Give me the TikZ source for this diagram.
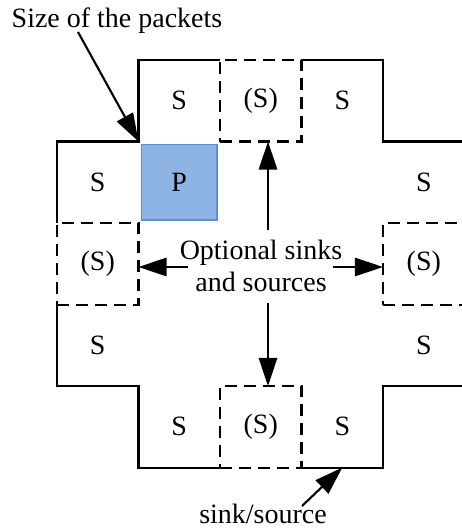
\documentclass[tikz,border=0pt]{standalone}
\usepackage{fontspec}
\setmainfont{Liberation Serif}
\usetikzlibrary{arrows.meta,positioning}

\definecolor{pfill}{HTML}{8DB4E2}
\definecolor{pline}{HTML}{5B8ED8}

\tikzset{
  cell/.style={minimum size=2.0375cm,inner sep=0pt,outer sep=0pt},
  optcell/.style={cell,draw,dash pattern=on 8.5pt off 5pt},
  packet/.style={minimum size=1.89cm,inner sep=0pt,draw=pline,fill=pfill,line width=1.2pt}
}

\begin{document}
\begin{tikzpicture}[x=0.025cm,y=-0.025cm,>={Triangle[length=20pt,width=13pt]},line width=1.5pt,node distance=2.0375cm,font=\fontsize{19.9}{22.8}\selectfont]
    \useasboundingbox (0,0) rectangle (461,532);

    % cells of the cross
    \node[cell] (t1) at (179.25,100.75) {S};
    \node[optcell] (t2) [right of=t1] {(S)};
    \node[cell] (t3) [right of=t2] {S};

    \node[packet] (p) [below of=t1] {P};
    \node[cell] (l1) [left of=p] {S};
    \node[optcell] (l2) [below of=l1] {(S)};
    \node[cell] (l3) [below of=l2] {S};

    \node[cell] (r1) [right of=p, xshift=4.075cm] {S};
    \node[optcell] (r2) [below of=r1] {(S)};
    \node[cell] (r3) [below of=r2] {S};

    \node[cell] (b1) [right of=l3, yshift=-2.0375cm] {S};
    \node[optcell] (b2) [right of=b1] {(S)};
    \node[cell] (b3) [right of=b2] {S};

    % outline
    \draw (t2.north west) -- (t1.north west) -- (t1.south west) -- (l1.north west) -- (l2.north west);
    \draw (l2.south west) -- (l3.south west) -- (b1.north west) -- (b1.south west) -- (b2.south west);
    \draw (b2.south east) -- (b3.south east) -- (b3.north east) -- (r3.south east);
    \draw (t2.north east) -- (t3.north east) -- (t3.south east) -- (r1.north east);

    % labels
    \node[anchor=base] (size) at (117,28) {Size of the packets};
    \node[align=center] (opt) at (261,266) {Optional sinks\\and sources};
    \node[anchor=base] (sink) at (263,523) {sink/source};

    \coordinate (szt) at (78,32);
    \coordinate (up) at (268,230);
    \coordinate (dn) at (268,303);
    \coordinate (lf) at (188,267);
    \coordinate (rt) at (333,267);
    \coordinate (snt) at (302,506);

    \draw[->] (szt) -- (t1.south west);
    \draw[->] (up) -- (up |- t2.south);
    \draw[->] (dn) -- (dn |- b2.north);
    \draw[->] (lf) -- (lf -| l2.east);
    \draw[->] (rt) -- (rt -| r2.west);
    \draw[->] (snt) -- (b3.south);
\end{tikzpicture}
\end{document}
